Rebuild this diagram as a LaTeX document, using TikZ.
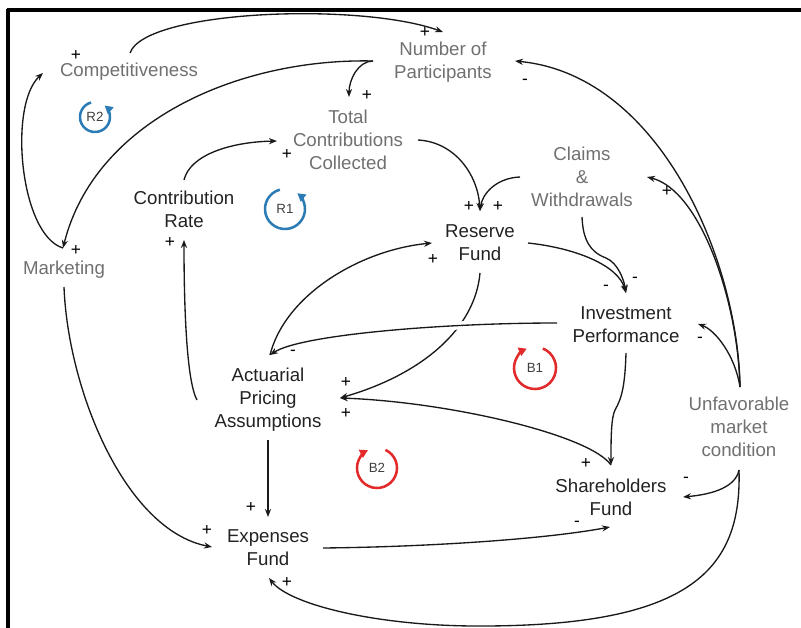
\documentclass[tikz,border=0pt]{standalone}
\usepackage{fontspec}
\setmainfont{Liberation Sans}
\usetikzlibrary{arrows.meta,calc}
\definecolor{gtxt}{HTML}{707070}
\definecolor{btxt}{HTML}{222222}
\definecolor{loopblue}{HTML}{2B7BB5}
\definecolor{loopred}{HTML}{E32A2A}
\begin{document}
\begin{tikzpicture}[x=0.75pt,y=-0.75pt,
  var/.style={align=center,inner sep=0pt,font=\fontsize{14}{17.3}\selectfont},
  gvar/.style={var,text=gtxt},
  bvar/.style={var,text=btxt},
  conn/.style={line width=1pt,draw=black!90,-{Stealth[length=6pt,width=4.6pt]}},
  sgn/.style={inner sep=0pt,font=\fontsize{13}{13}\selectfont,text=black},
  loopring/.style={line width=1.9pt,-{Triangle[length=6pt,width=6.5pt]}},
  looplbl/.style={inner sep=0pt,font=\fontsize{10}{10}\selectfont,text=black!75}]
\useasboundingbox (0,0) rectangle (801,628);
\draw[line width=2.6pt] (6.5,10) -- (801,10);
\draw[line width=2.6pt] (8,8.5) -- (8,628);

% variables
\node[gvar] (comp) at (129,72) {Competitiveness};
\node[gvar] (np) at (443,62) {Number of\\Participants};
\node[gvar] (tcc) at (348,140) {Total\\Contributions\\Collected};
\node[bvar] (cr) at (184,209) {Contribution\\Rate};
\node[gvar] (cw) at (582,177) {Claims\\\&\\Withdrawals};
\node[bvar] (rf) at (480,243) {Reserve\\Fund};
\node[gvar] (mk) at (64,270) {Marketing};
\node[bvar] (ip) at (626,325) {Investment\\Performance};
\node[bvar] (apa) at (268,400) {Actuarial\\Pricing\\Assumptions};
\node[gvar] (umc) at (739,427) {Unfavorable\\market\\condition};
\node[bvar] (sf) at (611,497) {Shareholders\\Fund};
\node[bvar] (ef) at (268,548) {Expenses\\Fund};

% loop markers
\node[looplbl] (r2) at (95,117) {R2};
\node[looplbl] (r1) at (285,209) {R1};
\node[looplbl] (b1) at (535,368) {B1};
\node[looplbl] (b2) at (377,468) {B2};
\begin{scope}[shift={(r2)},x=0.75pt,y=0.75pt]
  \draw[loopring,loopblue] (105:15) arc[start angle=105,end angle=410,radius=15];
\end{scope}
\begin{scope}[shift={(r1)},x=0.75pt,y=0.75pt]
  \draw[loopring,loopblue] (105:20) arc[start angle=105,end angle=412,radius=20];
\end{scope}
\begin{scope}[shift={(b1)},x=0.75pt,y=0.75pt]
  \draw[loopring,loopred] (68:21) arc[start angle=68,end angle=-247,radius=21];
\end{scope}
\begin{scope}[shift={(b2)},x=0.75pt,y=0.75pt]
  \draw[loopring,loopred] (65:20) arc[start angle=65,end angle=-243,radius=20];
\end{scope}

% connectors
\draw[conn] ($(comp)+(1,-19)$) .. controls (145,10) and (360,2) .. ($(np)+(0,-30)$);
\draw[conn] ($(np)+(-70,-1)$) .. controls (358,61) and (349,80) .. ($(tcc)+(1,-43)$);
\draw[conn] ($(np)+(-70,-1)$) .. controls (240,58) and (95,120) .. ($(mk)+(-1,-22)$);
\draw[conn] ($(mk)+(-1,-22)$) .. controls (20,235) and (8,105) .. ($(comp)+(-86,1)$);
\draw[conn] ($(cr)+(0,-29)$) .. controls (190,155) and (230,142) .. ($(tcc)+(-71,1)$);
\draw[conn] ($(tcc)+(70,0)$) .. controls (455,142) and (478,175) .. ($(rf)+(0,-32)$);
\draw[conn] ($(cw)+(-62,0)$) .. controls (495,178) and (482,195) .. ($(rf)+(0,-32)$);
\draw[conn] ($(rf)+(48,0)$) .. controls (575,248) and (618,265) .. ($(ip)+(0,-32)$);
\draw[conn] ($(cw)+(0,40)$) .. controls (583,240) and (590,252) .. (606,258) .. controls (618,263) and (624,280) .. ($(ip)+(0,-32)$);
\draw[conn] ($(rf)+(0,30)$) .. controls (475,330) and (420,375) .. ($(apa)+(72,-2)$);
\draw[white,line width=6pt] (473,324.4) -- (445,326.6);
\draw[conn] ($(ip)+(-69,-2)$) .. controls (440,323) and (300,335) .. ($(apa)+(2,-45)$);
\draw[conn] ($(apa)+(2,-45)$) .. controls (285,295) and (360,250) .. ($(rf)+(-48,0)$);
\draw[conn] ($(apa)+(-71,0)$) .. controls (186,380) and (184,300) .. ($(cr)+(0,31)$);
\draw[conn] ($(sf)+(0,-32)$) .. controls (590,435) and (450,402) .. ($(apa)+(72,-2)$);
\draw[conn] ($(ip)+(0,28)$) .. controls (625,385) and (622,398) .. (615,410) .. controls (611,418) and (611,440) .. ($(sf)+(0,-32)$);
\draw[conn] ($(apa)+(0,40)$) -- ($(ef)+(0,-31)$);
\draw[conn] ($(mk)+(0,17)$) .. controls (68,390) and (125,530) .. ($(ef)+(-56,-1)$);
\draw[conn] ($(ef)+(55,0)$) .. controls (420,547) and (540,540) .. ($(sf)+(-1,30)$);
\draw[conn] ($(umc)+(1,-40)$) .. controls (738,260) and (660,75) .. ($(np)+(72,-1)$);
\draw[conn] ($(umc)+(1,-40)$) .. controls (738,300) and (700,190) .. ($(cw)+(65,0)$);
\draw[conn] ($(umc)+(1,-40)$) .. controls (735,355) and (715,330) .. ($(ip)+(72,-1)$);
\draw[conn] ($(umc)+(0,43)$) .. controls (735,490) and (705,495) .. ($(sf)+(72,0)$);
\draw[conn] ($(umc)+(0,43)$) .. controls (742,570) and (690,625) .. (486,626) .. controls (380,627) and (290,605) .. ($(ef)+(1,30)$);

% polarity signs
\node[sgn] (s1) at (76,55) {+};
\node[sgn] (s2) at (425,32) {+};
\node[sgn] (s3) at (367,95) {+};
\node[sgn] (s4) at (76,250) {+};
\node[sgn] (s5) at (287,154) {+};
\node[sgn] (s6) at (469,206) {+};
\node[sgn] (s7) at (498,206) {+};
\node[sgn] (s8) at (525,82) {-};
\node[sgn] (s9) at (667,191) {+};
\node[sgn] (s10) at (170,242) {+};
\node[sgn] (s11) at (433,259) {+};
\node[sgn] (s12) at (606,288) {-};
\node[sgn] (s13) at (635,280) {-};
\node[sgn] (s14) at (293,353) {-};
\node[sgn] (s15) at (346,382) {+};
\node[sgn] (s16) at (346,413) {+};
\node[sgn] (s17) at (700,340) {-};
\node[sgn] (s18) at (586,463) {+};
\node[sgn] (s19) at (686,480) {-};
\node[sgn] (s20) at (251,507) {+};
\node[sgn] (s21) at (207,530) {+};
\node[sgn] (s22) at (577,524) {-};
\node[sgn] (s23) at (287,582) {+};
\end{tikzpicture}
\end{document}
